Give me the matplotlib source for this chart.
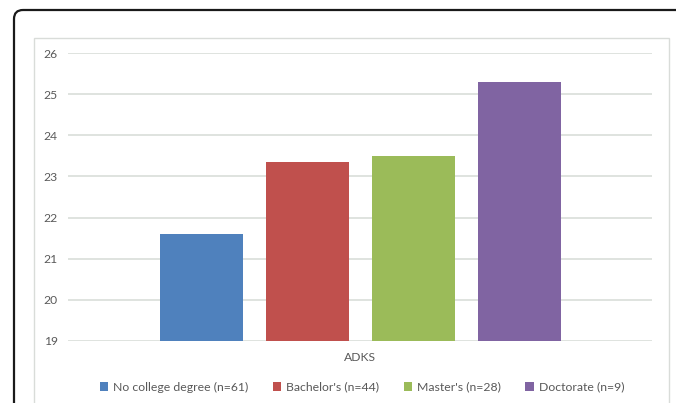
import matplotlib
matplotlib.use("Agg")
import matplotlib.pyplot as plt
from matplotlib.patches import Rectangle, PathPatch
from matplotlib.path import Path
import numpy as np

categories = ["ADKS"]
series_names = ["No college degree (n=61)", "Bachelor's (n=44)", "Master's (n=28)", "Doctorate (n=9)"]
series_values = [21.6, 23.35, 23.5, 25.3]
colors = ["#4F81BD", "#C0504D", "#9BBB59", "#8064A2"]
yticks = [19, 20, 21, 22, 23, 24, 25, 26]

plt.rcParams['font.family'] = ['Lato', 'DejaVu Sans']

W, H = 676, 403
fig = plt.figure(figsize=(W / 100, H / 100), dpi=100)

# outer frame (rounded top-left corner, black), in pixel units converted to figure fraction
r = 9.0
x0, y0 = 14.0, 10.0
verts = [(x0, H + 20), (x0, y0 + r), (x0, y0), (x0 + r, y0), (W + 20, y0)]
codes = [Path.MOVETO, Path.LINETO, Path.CURVE3, Path.CURVE3, Path.LINETO]
verts = [(vx / W, 1 - vy / H) for vx, vy in verts]
frame = PathPatch(Path(verts, codes), transform=fig.transFigure, fill=False,
                  edgecolor="#1a1a1a", linewidth=1.6, zorder=0)
fig.patches.append(frame)
# inner chart-area box
inner = Rectangle((34 / W, -0.1), (669 - 34) / W, (H - 38) / H + 0.1,
                  transform=fig.transFigure, fill=False,
                  edgecolor="#D9DCD9", linewidth=1.0, zorder=0)
fig.patches.append(inner)

ax = fig.add_axes([68 / W, 1 - 340.7 / H, (652 - 68) / W, (340.7 - 53.3) / H])
n = len(series_values)
step = 106.0
width = 83.0
for i, (name, v, c) in enumerate(zip(series_names, series_values, colors)):
    ax.bar((i - (n - 1) / 2) * step, v - yticks[0], bottom=yticks[0], width=width,
           color=c, label=name, zorder=3)

ax.set_xlim(-292, 292)
ax.set_ylim(yticks[0], yticks[-1])
ax.set_yticks(yticks)
ax.set_yticklabels([str(t) for t in yticks], color="#595959", fontsize=8.7)
ax.set_xticks([0])
ax.set_xticklabels(categories, color="#595959", fontsize=8.7)
ax.tick_params(axis='both', length=0)
ax.tick_params(axis='y', pad=7.5)
ax.tick_params(axis='x', pad=8)
ax.grid(axis='y', color="#D9DED9", linewidth=1.2, zorder=0)
for s in ax.spines.values():
    s.set_visible(False)

handles, labels = ax.get_legend_handles_labels()
fig.legend(handles, labels, loc="center", bbox_to_anchor=(362 / W, 1 - 387 / H),
           ncol=4, frameon=False, fontsize=8.8, handlelength=0.7, handleheight=0.7,
           handletextpad=0.4, columnspacing=2.0, labelcolor="#595959")

fig.savefig("out.png", dpi=100)
